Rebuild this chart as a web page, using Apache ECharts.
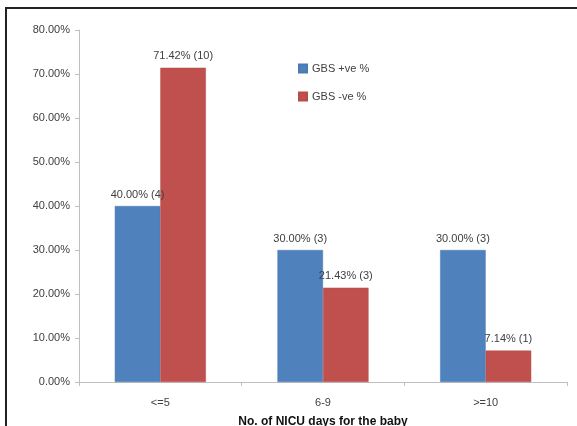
<!DOCTYPE html>
<html>
<head>
<meta charset="utf-8">
<script src="https://cdn.jsdelivr.net/npm/echarts@6/dist/echarts.min.js"></script>
<style>
  html, body { margin: 0; padding: 0; background: #fff; }
  #chart { width: 577px; height: 426px; }
</style>
</head>
<body>
<div id="chart"></div>
<script>
// NICU stay grouped by GBS status
const categories = ['<=5', '6-9', '>=10'];
const gbsPositive = [40.00, 30.00, 30.00];
const gbsNegative = [71.42, 21.43, 7.14];
const gbsPositiveCounts = [4, 3, 3];
const gbsNegativeCounts = [10, 3, 1];
const yTicks = [0, 10, 20, 30, 40, 50, 60, 70, 80];

const chart = echarts.init(document.getElementById('chart'));
const font = '"Liberation Sans", Arial, sans-serif';

function labelFor(counts) {
  return {
    show: true,
    position: 'top',
    distance: 6,
    color: '#404040',
    fontSize: 11,
    fontFamily: font,
    formatter: p => p.value.toFixed(2) + '% (' + counts[p.dataIndex] + ')'
  };
}

chart.setOption({
  animation: false,
  backgroundColor: '#fff',
  graphic: [{
    type: 'rect',
    shape: { x: 6, y: 8, width: 590, height: 440 },
    style: { fill: 'none', stroke: '#222', lineWidth: 2 },
    silent: true
  }],
  grid: { left: 79, right: 10, top: 30, bottom: 44, containLabel: false, outerBoundsMode: 'none' },
  legend: {
    orient: 'vertical',
    left: 293,
    top: 58,
    itemWidth: 8,
    itemHeight: 8,
    itemGap: 17,
    icon: 'rect',
    textStyle: { color: '#404040', fontSize: 11, fontFamily: font },
    data: ['GBS +ve %', 'GBS -ve %']
  },
  xAxis: {
    type: 'category',
    data: categories,
    name: 'No. of NICU days for the baby',
    nameLocation: 'middle',
    nameGap: 34,
    nameTextStyle: { color: '#111', fontSize: 12, fontWeight: 'bold', fontFamily: font },
    axisLine: { lineStyle: { color: '#bfbfbf', width: 1 } },
    axisTick: { show: true, length: 4, lineStyle: { color: '#bfbfbf' } },
    axisLabel: { color: '#404040', fontSize: 11, fontFamily: font, margin: 15 }
  },
  yAxis: {
    type: 'value',
    min: yTicks[0],
    max: yTicks[yTicks.length - 1],
    interval: 10,
    axisLine: { show: true, lineStyle: { color: '#bfbfbf', width: 1 } },
    axisTick: { show: true, length: 4, lineStyle: { color: '#bfbfbf' } },
    splitLine: { show: false },
    axisLabel: {
      color: '#404040', fontSize: 11, fontFamily: font, margin: 9,
      formatter: v => v.toFixed(2) + '%'
    }
  },
  series: [
    {
      name: 'GBS +ve %',
      type: 'bar',
      data: gbsPositive,
      barGap: '0%',
      barCategoryGap: '44%',
      itemStyle: { color: '#4F81BD', borderColor: '#4a7ab3', borderWidth: 0.5 },
      label: labelFor(gbsPositiveCounts)
    },
    {
      name: 'GBS -ve %',
      type: 'bar',
      data: gbsNegative,
      itemStyle: { color: '#C0504D', borderColor: '#b94b48', borderWidth: 0.5 },
      label: labelFor(gbsNegativeCounts)
    }
  ]
});
</script>
</body>
</html>
